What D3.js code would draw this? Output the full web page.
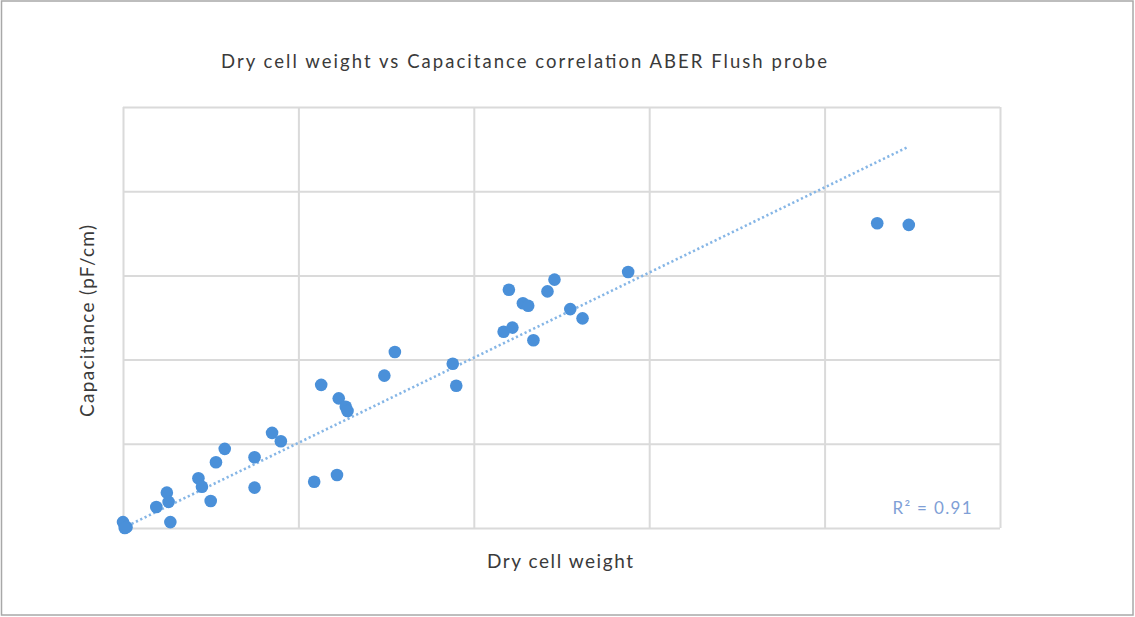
<!DOCTYPE html>
<html>
<head>
<meta charset="utf-8">
<script src="https://cdn.jsdelivr.net/npm/d3@7"></script>
<style>
  html, body { margin: 0; padding: 0; background: #fff; }
  svg { display: block; }
</style>
</head>
<body>
<svg id="chart" width="1135" height="617"></svg>
<script>
// ---- Data (arbitrary units; axes carry no tick labels) ----
const dryCellWeight = [0.00, 0.02, 0.01, 0.19, 0.25, 0.26, 0.27, 0.43, 0.45, 0.50,
                       0.53, 0.58, 0.75, 0.75, 0.85, 0.90, 1.09, 1.13, 1.22, 1.23,
                       1.27, 1.28, 1.49, 1.55, 1.88, 1.90, 2.17, 2.20, 2.22, 2.28,
                       2.31, 2.34, 2.42, 2.46, 2.55, 2.62, 2.88, 4.30, 4.48];
const capacitance   = [0.07, 0.01, 0.00, 0.25, 0.42, 0.31, 0.07, 0.59, 0.49, 0.32,
                       0.78, 0.94, 0.84, 0.48, 1.13, 1.03, 0.55, 1.70, 0.63, 1.54,
                       1.44, 1.39, 1.81, 2.09, 1.95, 1.69, 2.33, 2.83, 2.38, 2.67,
                       2.64, 2.23, 2.81, 2.95, 2.60, 2.49, 3.04, 3.62, 3.60];
const trendX = [0, 4.47];
const trendY = [0.0, 4.52];
const xTicks = [0, 1, 2, 3, 4, 5];
const yTicks = [0, 1, 2, 3, 4, 5];
const titleText = "Dry cell weight vs Capacitance correlation ABER Flush probe";
const xLabel = "Dry cell weight";
const yLabel = "Capacitance (pF/cm)";
const r2Label = "R² = 0.91";

// ---- Layout ----
const W = 1135, H = 617;
const plot = { left: 123, right: 1000, top: 107, bottom: 528 };
const FONT = "Lato, 'Noto Sans', sans-serif";

const svg = d3.select("#chart");

// outer border
svg.append("rect")
  .attr("x", 1.5).attr("y", 1).attr("width", 1131.5).attr("height", 614)
  .attr("fill", "#fff").attr("stroke", "#a8a8a8").attr("stroke-width", 1.5);

const x = d3.scaleLinear().domain([0, 5]).range([plot.left, plot.right]);
const y = d3.scaleLinear().domain([0, 5]).range([plot.bottom, plot.top]);

// gridlines via axes (no labels)
const gridColor = "#dadada";
const gx = svg.append("g")
  .attr("transform", `translate(0,${plot.bottom})`)
  .call(d3.axisBottom(x).tickValues(xTicks).tickSize(-(plot.bottom - plot.top)).tickFormat(""));
const gy = svg.append("g")
  .attr("transform", `translate(${plot.left},0)`)
  .call(d3.axisLeft(y).tickValues(yTicks).tickSize(-(plot.right - plot.left)).tickFormat(""));
[gx, gy].forEach(g => {
  g.select(".domain").remove();
  g.selectAll(".tick line").attr("stroke", gridColor).attr("stroke-width", 2);
});

// trendline (dotted)
const line = d3.line().x(d => x(d[0])).y(d => y(d[1]));
svg.append("path")
  .datum(d3.zip(trendX, trendY))
  .attr("d", line)
  .attr("fill", "none")
  .attr("stroke", "#86b6e6")
  .attr("stroke-width", 2.6)
  .attr("stroke-dasharray", "2.2,2.6");

// points
svg.append("g").selectAll("circle")
  .data(d3.zip(dryCellWeight, capacitance))
  .join("circle")
  .attr("cx", d => x(d[0]))
  .attr("cy", d => y(d[1]))
  .attr("r", 6.3)
  .attr("fill", "#4a90d9");

// title
svg.append("text")
  .attr("x", 524).attr("y", 68)
  .attr("text-anchor", "middle")
  .attr("font-family", FONT).attr("font-size", 18.5)
  .attr("fill", "#3a3a3a")
  .attr("textLength", 606).attr("lengthAdjust", "spacing")
  .text(titleText);

// x label
svg.append("text")
  .attr("x", 560).attr("y", 568)
  .attr("text-anchor", "middle")
  .attr("font-family", FONT).attr("font-size", 19)
  .attr("fill", "#3a3a3a")
  .attr("textLength", 146).attr("lengthAdjust", "spacing")
  .text(xLabel);

// y label
svg.append("text")
  .attr("transform", `translate(94,321) rotate(-90)`)
  .attr("text-anchor", "middle")
  .attr("font-family", FONT).attr("font-size", 19)
  .attr("fill", "#3a3a3a")
  .attr("textLength", 192).attr("lengthAdjust", "spacing")
  .text(yLabel);

// R²
svg.append("text")
  .attr("x", 932).attr("y", 514)
  .attr("text-anchor", "middle")
  .attr("font-family", FONT).attr("font-size", 17)
  .attr("fill", "#7f9fd6")
  .attr("textLength", 79).attr("lengthAdjust", "spacing")
  .text(r2Label);
</script>
</body>
</html>
